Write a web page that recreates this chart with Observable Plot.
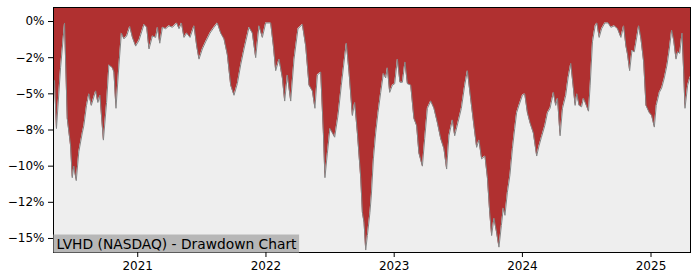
<!DOCTYPE html>
<html>
<head>
<meta charset="utf-8">
<script src="https://cdn.jsdelivr.net/npm/d3@7"></script>
<script src="https://cdn.jsdelivr.net/npm/@observablehq/plot@0.6"></script>
<style>
  html, body { margin: 0; padding: 0; background: #ffffff; }
  #chart { width: 700px; height: 280px; }
</style>
</head>
<body>
<div id="chart"></div>
<script>
// Decimal years (dates) and drawdown values in percent
const years = [
  2020.345, 2020.353, 2020.368, 2020.400, 2020.431, 2020.452, 2020.478, 2020.491, 2020.503, 2020.522,
  2020.542, 2020.569, 2020.581, 2020.602, 2020.620, 2020.639, 2020.673, 2020.690, 2020.706, 2020.733,
  2020.758, 2020.776, 2020.803, 2020.815, 2020.831, 2020.854, 2020.873, 2020.893, 2020.914, 2020.938,
  2020.959, 2020.984, 2021.010, 2021.049, 2021.070, 2021.088, 2021.115, 2021.140, 2021.154, 2021.172,
  2021.193, 2021.218, 2021.244, 2021.271, 2021.304, 2021.322, 2021.341, 2021.361, 2021.382, 2021.408,
  2021.439, 2021.460, 2021.478, 2021.504, 2021.530, 2021.564, 2021.595, 2021.621, 2021.647, 2021.673,
  2021.699, 2021.725, 2021.751, 2021.777, 2021.803, 2021.829, 2021.868, 2021.894, 2021.920, 2021.946,
  2021.972, 2021.998, 2022.037, 2022.058, 2022.076, 2022.102, 2022.128, 2022.146, 2022.167, 2022.193,
  2022.219, 2022.250, 2022.284, 2022.310, 2022.336, 2022.362, 2022.382, 2022.401, 2022.427, 2022.448,
  2022.460, 2022.479, 2022.499, 2022.518, 2022.536, 2022.562, 2022.588, 2022.609, 2022.627, 2022.648,
  2022.674, 2022.692, 2022.713, 2022.739, 2022.752, 2022.765, 2022.778, 2022.791, 2022.811, 2022.822,
  2022.838, 2022.856, 2022.874, 2022.895, 2022.916, 2022.934, 2022.947, 2022.965, 2022.986, 2023.004,
  2023.025, 2023.045, 2023.064, 2023.084, 2023.103, 2023.129, 2023.154, 2023.175, 2023.193, 2023.220,
  2023.238, 2023.259, 2023.285, 2023.310, 2023.337, 2023.363, 2023.388, 2023.409, 2023.427, 2023.454,
  2023.472, 2023.497, 2023.524, 2023.550, 2023.571, 2023.596, 2023.622, 2023.643, 2023.661, 2023.682,
  2023.708, 2023.727, 2023.745, 2023.760, 2023.778, 2023.799, 2023.817, 2023.836, 2023.851, 2023.864,
  2023.883, 2023.903, 2023.922, 2023.940, 2023.955, 2023.973, 2024.000, 2024.018, 2024.039, 2024.059,
  2024.085, 2024.111, 2024.129, 2024.148, 2024.174, 2024.195, 2024.215, 2024.241, 2024.259, 2024.273,
  2024.293, 2024.312, 2024.337, 2024.355, 2024.376, 2024.394, 2024.410, 2024.423, 2024.441, 2024.460,
  2024.475, 2024.493, 2024.514, 2024.527, 2024.545, 2024.566, 2024.579, 2024.597, 2024.616, 2024.641,
  2024.667, 2024.688, 2024.714, 2024.740, 2024.766, 2024.787, 2024.805, 2024.818, 2024.834, 2024.852,
  2024.870, 2024.891, 2024.904, 2024.922, 2024.943, 2024.961, 2024.987, 2025.005, 2025.026, 2025.041,
  2025.065, 2025.083, 2025.104, 2025.125, 2025.143, 2025.161, 2025.177, 2025.195, 2025.208, 2025.224,
  2025.242, 2025.255, 2025.265, 2025.286, 2025.302, 2025.308
];
const drawdown = [
  -4.0, -4.1, -7.4, -3.2, -0.1, -6.7, -8.6, -10.8, -10.0, -11.0,
  -9.0, -7.7, -7.2, -5.8, -5.0, -5.8, -4.8, -5.6, -5.1, -8.2,
  -5.6, -3.0, -3.2, -3.5, -6.0, -3.0, -0.8, -1.2, -1.0, -0.35,
  -1.1, -1.7, -1.3, -0.2, -0.4, -1.9, -1.0, -1.1, -0.4, -1.5,
  -0.4, -0.5, -0.3, -0.4, -0.1, -0.5, -0.1, -1.1, -0.8, -1.1,
  -0.3, -1.7, -2.6, -1.9, -1.4, -0.8, -0.4, -0.1, -0.8, -1.2,
  -2.3, -4.4, -5.1, -4.3, -3.0, -1.9, -0.4, -0.8, -2.5, -0.3,
  -1.1, -0.1, -0.1, -1.7, -3.4, -2.6, -3.9, -5.5, -3.7, -5.5,
  -2.6, -0.5, -0.2, -1.7, -4.4, -4.8, -6.0, -3.7, -3.5, -7.7,
  -10.8, -9.1, -7.4, -7.7, -8.0, -6.5, -4.4, -2.8, -1.5, -3.5,
  -6.5, -5.6, -7.7, -10.8, -13.2, -13.9, -15.8, -14.8, -13.2, -12.0,
  -9.5, -7.7, -6.3, -4.9, -3.6, -3.9, -3.2, -4.9, -4.4, -4.3,
  -2.6, -4.2, -4.2, -2.8, -4.3, -4.4, -6.7, -7.2, -9.1, -10.0,
  -8.1, -6.0, -5.5, -6.0, -7.0, -8.1, -8.8, -10.2, -7.9, -6.8,
  -7.9, -7.0, -6.0, -4.4, -3.4, -5.3, -7.2, -8.7, -8.2, -9.5,
  -9.3, -10.8, -13.2, -14.8, -13.6, -14.6, -15.6, -14.1, -12.9, -13.4,
  -11.8, -10.6, -8.8, -7.4, -6.3, -5.8, -5.1, -5.0, -6.3, -7.0,
  -7.7, -9.3, -8.6, -8.0, -7.2, -6.3, -6.0, -4.9, -5.8, -5.3,
  -7.9, -6.0, -5.1, -3.9, -2.9, -4.4, -5.8, -5.0, -5.8, -5.9,
  -5.3, -5.7, -6.2, -4.4, -1.4, -0.3, -0.1, -1.1, -0.5, -0.1,
  -0.1, -0.4, -0.3, -0.5, -1.1, -0.3, -1.7, -2.3, -3.4, -2.0,
  -2.1, -1.0, -0.3, -1.2, -2.8, -5.8, -6.3, -6.5, -7.3, -5.8,
  -4.9, -4.6, -3.9, -3.0, -1.9, -0.6, -1.3, -2.6, -2.1, -2.2,
  -0.8, -3.5, -6.0, -4.4, -3.9, -3.8
];
const yTickValues = [0, -2.5, -5, -7.5, -10, -12.5, -15];
const yTickLabels = ["0%", "\u22122%", "\u22125%", "\u22128%", "\u221210%", "\u221212%", "\u221215%"];
const xTickYears = [2021, 2022, 2023, 2024, 2025];
const xTickLabels = ["2021", "2022", "2023", "2024", "2025"];
const titleText = "LVHD (NASDAQ) - Drawdown Chart";
const yTop = 0.97, yBottom = -15.97;
const xStart = 2020.345, xEnd = 2025.308;

function toDate(y) {
  const yr = Math.floor(y);
  const a = Date.UTC(yr, 0, 1), b = Date.UTC(yr + 1, 0, 1);
  return new Date(a + (y - yr) * (b - a));
}
const data = years.map((y, i) => ({date: toDate(y), dd: drawdown[i]}));
const xTicks = xTickYears.map(y => toDate(y));
const yLabelMap = new Map(yTickValues.map((v, i) => [v, yTickLabels[i]]));
const xLabelMap = new Map(xTicks.map((d, i) => [+d, xTickLabels[i]]));

const chart = Plot.plot({
  width: 700,
  height: 280,
  marginLeft: 53,
  marginRight: 10,
  marginTop: 7,
  marginBottom: 28,
  style: {fontFamily: "DejaVu Sans", fontSize: "12px", color: "#000", background: "#ffffff", overflow: "visible"},
  x: {type: "utc", domain: [toDate(xStart), toDate(xEnd)]},
  y: {domain: [yBottom, yTop]},
  marks: [
    Plot.frame({fill: "#eeeeee"}),
    Plot.areaY(data, {x: "date", y1: () => yTop, y2: "dd", fill: "#b03030"}),
    Plot.lineY(data, {x: "date", y: "dd", stroke: "#858585", strokeWidth: 1}),
    Plot.frame({stroke: "#000", strokeWidth: 1}),
    Plot.text([titleText], {frameAnchor: "bottom-left", text: d => d, dx: 3, dy: -4, fontSize: 13.8, fill: "#000", lineAnchor: "bottom", className: "ttl"}),
    Plot.axisX({ticks: xTicks, tickFormat: d => xLabelMap.get(+d), tickSize: 5, tickPadding: 4, label: null, stroke: "#000"}),
    Plot.axisY({ticks: yTickValues, tickFormat: d => yLabelMap.get(d), tickSize: 5, tickPadding: 4, label: null, stroke: "#000"})
  ]
});
document.getElementById("chart").appendChild(chart);

// gray box behind the title text
const t = chart.querySelector(".ttl text");
if (t) {
  const sb = chart.getBoundingClientRect();
  const tb = t.getBoundingClientRect();
  const right = tb.right - sb.left;
  const top = tb.top - sb.top;
  const r = document.createElementNS("http://www.w3.org/2000/svg", "rect");
  r.setAttribute("x", 53.5);
  r.setAttribute("y", top - 1);
  r.setAttribute("width", right + 2 - 53.5);
  r.setAttribute("height", 252.5 - (top - 1));
  r.setAttribute("fill", "#b7b7b7");
  const g = t.parentNode;
  g.parentNode.insertBefore(r, g);
}
</script>
</body>
</html>
